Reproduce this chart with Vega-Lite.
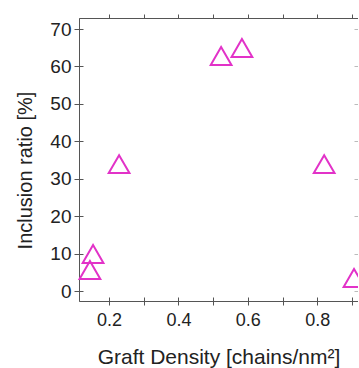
{
  "$schema": "https://vega.github.io/schema/vega-lite/v6.json",
  "width": 279,
  "height": 283,
  "autosize": "none",
  "padding": {"left": 79, "top": 18, "right": 0, "bottom": 67},
  "background": "white",
  "config": {
    "view": {"stroke": "#999", "strokeWidth": 1},
    "font": "Liberation Sans"
  },
  "data": {
    "values": [
      {"density": 0.145, "ratio": 5.6},
      {"density": 0.154, "ratio": 9.9},
      {"density": 0.229, "ratio": 33.9},
      {"density": 0.523, "ratio": 62.8},
      {"density": 0.583, "ratio": 64.9},
      {"density": 0.82, "ratio": 33.9},
      {"density": 0.906, "ratio": 3.5}
    ]
  },
  "resolve": {"axis": {"x": "independent", "y": "independent"}},
  "layer": [
    {
      "mark": {"type": "point", "shape": "triangle-up", "filled": false, "size": 430, "strokeWidth": 2, "color": "#e232c8", "opacity": 1, "clip": false},
      "encoding": {
        "x": {
          "field": "density", "type": "quantitative",
          "scale": {"domain": [0.1135, 0.9175], "nice": false, "zero": false},
          "axis": {
            "orient": "bottom",
            "title": "Graft Density [chains/nm²]",
            "values": [0.2, 0.3, 0.4, 0.5, 0.6, 0.7, 0.8, 0.9],
            "labelExpr": "(round(datum.value*10) % 2 == 0) ? format(datum.value, '.1f') : ''",
            "grid": false, "domainColor": "#555", "tickColor": "#555", "tickSize": 4,
            "labelFontSize": 18, "labelColor": "#222", "labelPadding": 6, "labelFlush": false,
            "titleFontSize": 21, "titleColor": "#222", "titleFontWeight": "normal", "titlePadding": 17
          }
        },
        "y": {
          "field": "ratio", "type": "quantitative",
          "scale": {"domain": [-2.67, 72.94], "nice": false, "zero": false},
          "axis": {
            "orient": "left",
            "title": "Inclusion ratio [%]",
            "values": [0, 10, 20, 30, 40, 50, 60, 70],
            "grid": false, "domainColor": "#555", "tickColor": "#555", "tickSize": 5,
            "labelFontSize": 19, "labelColor": "#222", "labelPadding": 3,
            "titleFontSize": 20, "titleColor": "#222", "titleFontWeight": "normal", "titlePadding": 14, "titleY": 152
          }
        }
      }
    },
    {
      "mark": {"type": "point", "opacity": 0},
      "encoding": {
        "x": {
          "field": "density", "type": "quantitative",
          "axis": {
            "orient": "bottom", "title": null, "labels": false, "domain": false, "grid": false,
            "values": [0.2, 0.3, 0.4, 0.5, 0.6, 0.7, 0.8, 0.9],
            "tickColor": "#555", "tickSize": -4
          }
        },
        "y": {
          "field": "ratio", "type": "quantitative",
          "axis": {
            "orient": "left", "title": null, "labels": false, "domain": false, "grid": false,
            "values": [0, 10, 20, 30, 40, 50, 60, 70],
            "tickColor": "#555", "tickSize": -4
          }
        }
      }
    },
    {
      "mark": {"type": "point", "opacity": 0},
      "encoding": {
        "x": {
          "field": "density", "type": "quantitative",
          "axis": {
            "orient": "top", "title": null, "labels": false, "grid": false,
            "values": [0.2, 0.3, 0.4, 0.5, 0.6, 0.7, 0.8, 0.9],
            "domainColor": "#555", "tickColor": "#555", "tickSize": 4
          }
        },
        "y": {
          "field": "ratio", "type": "quantitative",
          "axis": {
            "orient": "right", "title": null, "labels": false, "grid": false,
            "values": [0, 10, 20, 30, 40, 50, 60, 70],
            "domainColor": "#bbb", "tickColor": "#bbb", "tickSize": -4
          }
        }
      }
    }
  ]
}
